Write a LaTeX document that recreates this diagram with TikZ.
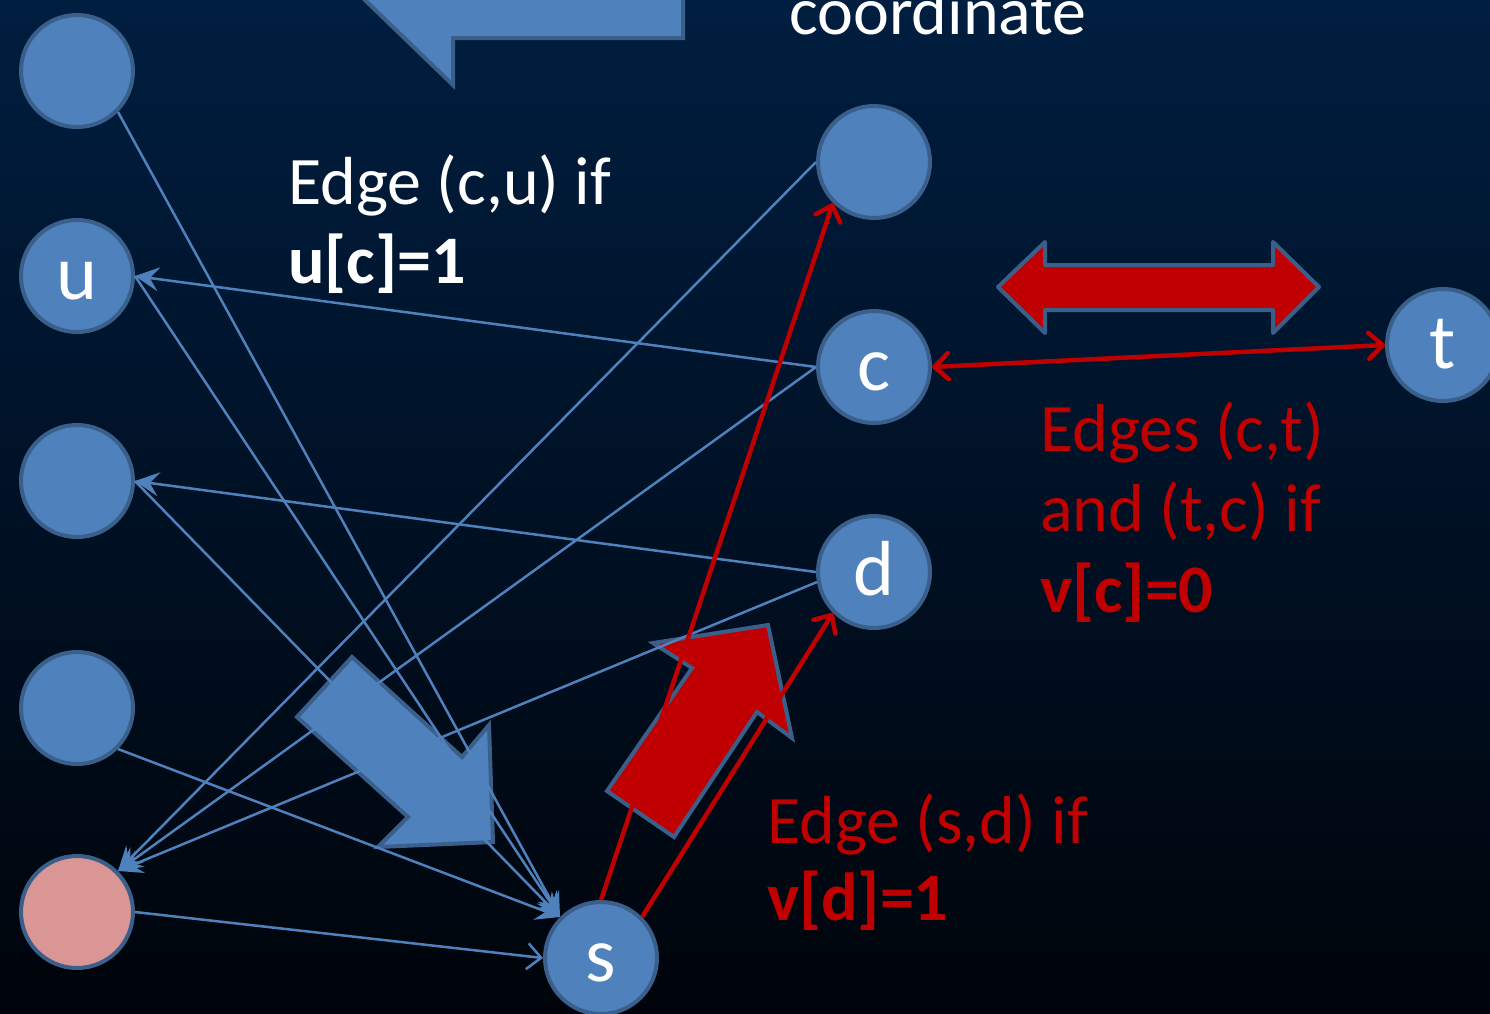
\documentclass[tikz,border=0pt]{standalone}
\usepackage{fontspec}
\setmainfont{Carlito}
\usepackage{tikz}
\usepackage{xcolor}
\usetikzlibrary{arrows.meta,positioning}

\definecolor{nodeblue}{HTML}{4F81BD}
\definecolor{rimblue}{HTML}{3A5F8B}
\definecolor{nodepink}{HTML}{D99694}
\definecolor{edgered}{HTML}{C00000}
\definecolor{bgtop}{RGB}{0,30,64}
\definecolor{bgbot}{RGB}{0,4,10}

\newcommand{\notefont}{\fontsize{68}{80}\selectfont}
\newcommand{\vertexfont}{\fontsize{78}{90}\selectfont}

\tikzset{
  vertex/.style={circle, fill=nodeblue, draw=rimblue, line width=4pt,
    minimum size=112pt, inner sep=0pt, text=white, font=\vertexfont,
    text height=46pt, text depth=0pt},
  blueedge/.style={nodeblue, line width=2.5pt,
    -{Stealth[length=24pt,width=24pt,inset=9pt]}},
  rededge/.style={edgered, line width=4.5pt,
    -{Straight Barb[length=14pt,width=26pt,round]}},
  blockarrow/.style={draw=rimblue, line width=4pt},
  note/.style={anchor=base west, inner sep=0pt, text=white, font=\notefont}
}

\begin{document}
\begin{tikzpicture}[x=1pt,y=-1pt]
    \useasboundingbox (0,0) rectangle (1490,1013);
    \clip (0,0) rectangle (1490,1013);
    % Background
    \shade[top color=bgtop, bottom color=bgbot] (0,0) rectangle (1490,1013);

    % Block arrows
    \filldraw[blockarrow, fill=nodeblue] (339,-25) -- (453,85) -- (453,38)
        -- (683,38) -- (683,-25) -- cycle;
    \filldraw[blockarrow, fill=nodeblue] (352,657) -- (462,757) -- (489,725)
        -- (493,842) -- (378,847) -- (408,817) -- (297,717) -- cycle;
    \filldraw[blockarrow, fill=edgered] (607,791) -- (692,668) -- (653,643)
        -- (768,625) -- (792,738) -- (757,712) -- (674,837) -- cycle;
    \filldraw[blockarrow, fill=edgered, line join=round] (998,287) -- (1045,242)
        -- (1045,265) -- (1273,265) -- (1273,242) -- (1319,287) -- (1273,333)
        -- (1273,310) -- (1045,310) -- (1045,333) -- cycle;

    % Left column
    \node[vertex] (a1) at (77,71) {};
    \node[vertex] (u) at (77,276) {u};
    \node[vertex] (a3) at (77,481) {};
    \node[vertex] (a4) at (77,708) {};
    \node[vertex, fill=nodepink] (p) at (77,912) {};
    \node[vertex] (s) at (601,958) {s};

    % Right column
    \node[vertex] (r1) at (874,162) {};
    \node[vertex] (c) at (874,367) {c};
    \node[vertex] (d) at (874,572) {d};
    \node[vertex] (t) at (1443,345) {t};

    % Blue edges
    \draw[blueedge] (a1.south east) -- (s.north west);
    \draw[blueedge] (u.east) -- (s.north west);
    \draw[blueedge] (a3.east) -- (s.north west);
    \draw[blueedge] (a4.south east) -- (s.north west);
    \draw[blueedge, -{Straight Barb[length=14pt,width=26pt]}] (p.east) -- (s.west);
    \draw[blueedge] (c.west) -- (u.east);
    \draw[blueedge] (d.west) -- (a3.east);
    \draw[blueedge] (r1.west) -- (p.north east);
    \draw[blueedge] (c.west) -- (p.north east);
    \draw[blueedge] (d.190) -- (p.north east);

    % Red edges
    \draw[rededge] (s.north) -- (r1.south west);
    \draw[rededge] (s.north east) -- (d.south west);
    \draw[rededge, {Straight Barb[length=14pt,width=26pt,round]}-{Straight Barb[length=14pt,width=26pt,round]}]
        (c.east) -- (t.west);

    % Labels
    \node[note] (hdr) at (789,34) {coordinate};
    \node[note] (cu1) at (288,204) {Edge (c,u) if};
    \node[note] (cu2) at (288,283) {\bfseries u[c]=1};
    \node[note, text=edgered] (ct1) at (1040,451) {Edges (c,t)};
    \node[note, text=edgered] (ct2) at (1040,531) {and (t,c) if};
    \node[note, text=edgered] (ct3) at (1040,612) {\bfseries v[c]=0};
    \node[note, text=edgered] (sd1) at (767,843) {Edge (s,d) if};
    \node[note, text=edgered] (sd2) at (767,920) {\bfseries v[d]=1};
\end{tikzpicture}
\end{document}
